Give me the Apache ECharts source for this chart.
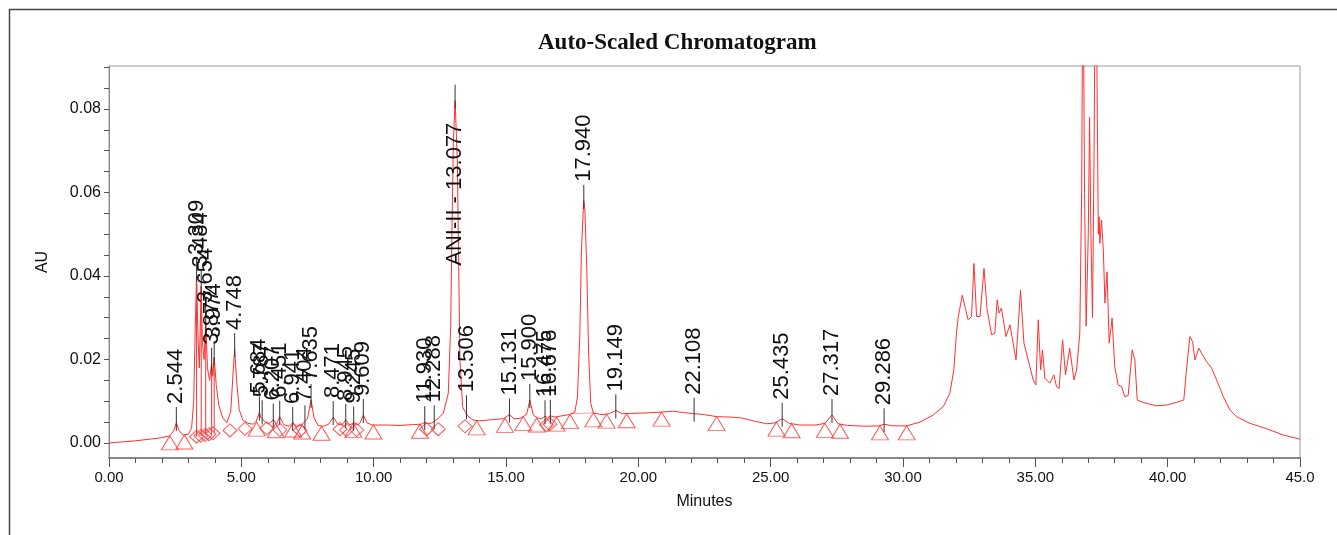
<!DOCTYPE html>
<html>
<head>
<meta charset="utf-8">
<script src="https://cdn.jsdelivr.net/npm/echarts@6/dist/echarts.min.js"></script>
<style>
  html, body { margin: 0; padding: 0; background: #fff; }
  #chart { width: 1337px; height: 535px; }
</style>
</head>
<body>
<div id="chart"></div>
<script>
// chromatogram trace, minutes / AU
const traceTime = [
  0, 0.98, 1.93, 2.30, 2.45, 2.544, 2.65, 2.80, 3.00, 3.12, 3.20, 3.26, 3.309, 3.36, 3.41, 3.45, 3.484, 3.53,
  3.59, 3.654, 3.72, 3.80, 3.877, 3.92, 3.974, 4.05, 4.15, 4.30, 4.45, 4.60, 4.68, 4.748, 4.82, 4.92, 5.05,
  5.25, 5.45, 5.56, 5.684, 5.73, 5.787, 5.90, 6.05, 6.207, 6.33, 6.451, 6.60, 6.80, 6.941, 7.10, 7.25, 7.404,
  7.50, 7.635, 7.75, 7.90, 8.10, 8.30, 8.471, 8.65, 8.80, 8.945, 9.10, 9.245, 9.40, 9.50, 9.609, 9.75, 9.95,
  10.5, 11.0, 11.5, 11.8, 11.93, 12.05, 12.20, 12.288, 12.45, 12.63, 12.82, 12.91, 12.96, 13.01, 13.077,
  13.16, 13.21, 13.26, 13.36, 13.45, 13.506, 13.60, 13.75, 14.0, 14.5, 14.9, 15.131, 15.30, 15.53, 15.78,
  15.90, 16.03, 16.20, 16.35, 16.475, 16.57, 16.676, 16.85, 17.10, 17.40, 17.60, 17.70, 17.79, 17.85, 17.92,
  17.94, 17.98, 18.05, 18.12, 18.20, 18.30, 18.60, 18.90, 19.149, 19.40, 19.80, 20.30, 20.90, 21.30, 21.70,
  22.108, 22.50, 22.96, 23.50, 23.90, 24.40, 24.85, 25.15, 25.435, 25.70, 26.10, 26.70, 27.05, 27.317, 27.55,
  27.90, 28.60, 29.10, 29.286, 29.60, 30.14, 30.64, 31.14, 31.52, 31.77, 31.92, 32.02, 32.09, 32.24, 32.34,
  32.46, 32.59, 32.68, 32.78, 32.91, 33.06, 33.18, 33.35, 33.47, 33.56, 33.63, 33.72, 33.89, 34.04, 34.27,
  34.44, 34.57, 34.73, 34.92, 35.02, 35.11, 35.20, 35.27, 35.36, 35.55, 35.70, 35.80, 35.90, 36.03, 36.14,
  36.30, 36.46, 36.56, 36.68, 36.75, 36.80, 36.86, 36.92, 37.00, 37.05, 37.10, 37.16, 37.22, 37.28, 37.34,
  37.38, 37.41, 37.44, 37.50, 37.57, 37.63, 37.71, 37.79, 37.90, 38.00, 38.13, 38.26, 38.38, 38.51, 38.66,
  38.76, 38.85, 39.07, 39.58, 39.96, 40.33, 40.61, 40.71, 40.84, 40.94, 41.03, 41.18, 41.28, 41.47, 41.66,
  41.85, 42.10, 42.35, 42.60, 43.11, 43.74, 44.37, 45.0
];
const traceAU = [
  0.0000, 0.0005, 0.0012, 0.0017, 0.0030, 0.0048, 0.0030, 0.0019, 0.0021, 0.0035, 0.0100, 0.0280, 0.0405, 0.0260, 0.0180, 0.0280, 0.0375, 0.0240,
  0.0200, 0.0290, 0.0180, 0.0150, 0.0190, 0.0160, 0.0205, 0.0140, 0.0090, 0.0060, 0.0048, 0.0075, 0.0160, 0.0225, 0.0150, 0.0080, 0.0055,
  0.0047, 0.0045, 0.0052, 0.0073, 0.0062, 0.0064, 0.0050, 0.0045, 0.0056, 0.0045, 0.0063, 0.0044, 0.0040, 0.0048, 0.0040, 0.0042, 0.0052,
  0.0058, 0.0103, 0.0060, 0.0042, 0.0040, 0.0045, 0.0062, 0.0045, 0.0043, 0.0055, 0.0043, 0.0049, 0.0043, 0.0050, 0.0067, 0.0048, 0.0043,
  0.0043, 0.0042, 0.0044, 0.0045, 0.0050, 0.0046, 0.0048, 0.0052, 0.0060, 0.0071, 0.0119, 0.0279, 0.0518, 0.0718, 0.0820,
  0.0678, 0.0438, 0.0199, 0.0087, 0.0075, 0.0076, 0.0062, 0.0055, 0.0053, 0.0056, 0.0058, 0.0068, 0.0058, 0.0059, 0.0068,
  0.0103, 0.0067, 0.0060, 0.0058, 0.0064, 0.0060, 0.0065, 0.0062, 0.0065, 0.0068, 0.0074, 0.0110, 0.0260, 0.0460, 0.0560,
  0.0580, 0.0560, 0.0420, 0.0220, 0.0095, 0.0072, 0.0068, 0.0070, 0.0078, 0.0070, 0.0071, 0.0072, 0.0074, 0.0076, 0.0073,
  0.0070, 0.0068, 0.0063, 0.0062, 0.0060, 0.0052, 0.0046, 0.0048, 0.0058, 0.0047, 0.0043, 0.0043, 0.0047, 0.0067, 0.0046,
  0.0042, 0.0040, 0.0041, 0.0045, 0.0041, 0.0041, 0.0050, 0.0067, 0.0087, 0.0119, 0.0175, 0.0263, 0.0303, 0.0354, 0.0327,
  0.0295, 0.0303, 0.0430, 0.0303, 0.0303, 0.0418, 0.0319, 0.0259, 0.0263, 0.0343, 0.0311, 0.0323, 0.0255, 0.0283, 0.0199,
  0.0366, 0.0239, 0.0199, 0.0151, 0.0139, 0.0295, 0.0175, 0.0223, 0.0155, 0.0143, 0.0163, 0.0135, 0.0131, 0.0247, 0.0163,
  0.0227, 0.0151, 0.0175, 0.0263, 0.0600, 0.1200, 0.0600, 0.0280, 0.0500, 0.0780, 0.0500, 0.0300, 0.0700, 0.1300, 0.0800,
  0.0500, 0.0542, 0.0478, 0.0534, 0.0460, 0.0335, 0.0410, 0.0239, 0.0299, 0.0183, 0.0139, 0.0135, 0.0111, 0.0114, 0.0223,
  0.0199, 0.0103, 0.0097, 0.0089, 0.0091, 0.0097, 0.0103, 0.0175, 0.0255, 0.0243, 0.0199, 0.0227, 0.0215, 0.0195, 0.0179,
  0.0151, 0.0111, 0.0079, 0.0063, 0.0047, 0.0034, 0.0019, 0.0009
];

// integrated peaks: retention time, apex height, label
const peakTimes = [2.544, 3.309, 3.484, 3.654, 3.877, 3.974, 4.748, 5.684, 5.787, 6.207, 6.451, 6.941, 7.404, 7.635,
  8.471, 8.945, 9.245, 9.609, 11.930, 12.288, 13.077, 13.506, 15.131, 15.900, 16.475, 16.676, 17.940, 19.149,
  22.108, 25.435, 27.317, 29.286];
const peakHeights = [0.0048, 0.0405, 0.0375, 0.0290, 0.0190, 0.0205, 0.0225, 0.0073, 0.0064, 0.0056, 0.0063, 0.0048, 0.0052, 0.0103,
  0.0062, 0.0055, 0.0049, 0.0067, 0.0050, 0.0052, 0.0820, 0.0076, 0.0068, 0.0103, 0.0064, 0.0065, 0.0580, 0.0078,
  0.0070, 0.0058, 0.0067, 0.0045];
const peakNames = ['2.544', '3.309', '3.484', '3.654', '3.877', '3.974', '4.748', '5.684', '5.787', '6.207', '6.451', '6.941', '7.404', '7.635',
  '8.471', '8.945', '9.245', '9.609', '11.930', '12.288', 'ANI-II - 13.077', '13.506', '15.131', '15.900', '16.475', '16.676', '17.940', '19.149',
  '22.108', '25.435', '27.317', '29.286'];

// drop lines in the early cluster
const dropTimes = [3.309, 3.484, 3.654, 3.877, 3.974];
const dropTops = [0.0405, 0.0375, 0.0290, 0.0190, 0.0205];
const dropBottoms = [0.0015, 0.0017, 0.0019, 0.0021, 0.0023];

// peak start / end markers
const triangleTimes = [2.30, 2.85, 5.58, 6.30, 6.96, 7.30, 8.03, 9.23, 9.99, 11.75, 13.89, 14.96, 15.65, 16.16, 16.91, 17.42,
  18.30, 18.80, 19.56, 20.88, 22.96, 25.22, 25.79, 27.05, 27.62, 29.13, 30.14];
const triangleAU = [0.0017, 0.0019, 0.0050, 0.0046, 0.0048, 0.0043, 0.0040, 0.0047, 0.0043, 0.0045, 0.0053, 0.0059, 0.0063, 0.0060, 0.0062, 0.0068,
  0.0072, 0.0069, 0.0070, 0.0074, 0.0063, 0.0050, 0.0046, 0.0047, 0.0045, 0.0041, 0.0041];
const diamondTimes = [3.31, 3.47, 3.63, 3.78, 3.93, 4.57, 5.14, 5.96, 6.46, 7.22, 8.73, 8.98, 9.36, 12.00, 12.44, 13.45, 16.53, 16.66];
const diamondAU = [0.0015, 0.0017, 0.0019, 0.0021, 0.0023, 0.0030, 0.0034, 0.0035, 0.0031, 0.0030, 0.0033, 0.0031, 0.0031, 0.0033, 0.0033, 0.0040, 0.0043, 0.0045];

// integration baseline under the 17.940 peak
const baselineTimes = [17.42, 18.30];
const baselineAU = [0.0070, 0.0072];

const yLabelValues = [0, 0.02, 0.04, 0.06, 0.08];
const yTickValues = [0, 0.005, 0.01, 0.015, 0.02, 0.025, 0.03, 0.035, 0.04, 0.045, 0.05, 0.055, 0.06, 0.065, 0.07, 0.075, 0.08, 0.085, 0.09];

const RED = '#ff3030';
const LABEL_FONT = '22px "Liberation Sans", Arial, sans-serif';

const measureCtx = document.createElement('canvas').getContext('2d');
function textLen(t) {
  measureCtx.font = LABEL_FONT;
  return measureCtx.measureText(t).width;
}

const chart = echarts.init(document.getElementById('chart'), null, { renderer: 'canvas' });

const option = {
  animation: false,
  backgroundColor: '#fff',
  title: {
    text: 'Auto-Scaled Chromatogram',
    left: 533,
    top: 27,
    textStyle: { fontFamily: '"Liberation Serif", serif', fontWeight: 'bold', fontSize: 23, color: '#111' }
  },
  graphic: [
    { type: 'rect', shape: { x: 9.5, y: 9.5, width: 1400, height: 600 }, style: { fill: 'none', stroke: '#444', lineWidth: 1.5 }, silent: true }
  ],
  grid: {
    left: 109, right: 37, top: 66, bottom: 77,
    show: true, borderColor: '#999', borderWidth: 1
  },
  xAxis: {
    type: 'value',
    min: 0, max: 45, interval: 5,
    name: 'Minutes', nameLocation: 'middle', nameGap: 36,
    nameTextStyle: { fontFamily: '"Liberation Sans", Arial', fontSize: 16, color: '#111' },
    axisLine: { show: true, onZero: false, lineStyle: { color: '#888', width: 2 } },
    axisTick: { show: true, length: 9, lineStyle: { color: '#555' } },
    minorTick: { show: true, splitNumber: 5, length: 5, lineStyle: { color: '#555' } },
    splitLine: { show: false },
    axisLabel: {
      fontFamily: '"Liberation Sans", Arial', fontSize: 15, color: '#111', margin: 12,
      formatter: v => (v === 45 ? '45.0' : v.toFixed(2))
    }
  },
  yAxis: {
    type: 'value',
    min: -0.0036, max: 0.0903,
    name: 'AU', nameLocation: 'middle', nameGap: 58, nameRotate: 90,
    nameTextStyle: { fontFamily: '"Liberation Sans", Arial', fontSize: 16, color: '#111' },
    axisLine: { show: true, lineStyle: { color: '#888', width: 1 } },
    axisTick: { show: true, length: 5, customValues: yTickValues, lineStyle: { color: '#555' } },
    splitLine: { show: false },
    axisLabel: {
      fontFamily: '"Liberation Sans", Arial', fontSize: 16, color: '#111', margin: 8,
      customValues: yLabelValues,
      formatter: v => v.toFixed(2)
    }
  },
  series: [
    {
      name: 'trace',
      type: 'line',
      data: traceTime.map((t, i) => [t, traceAU[i]]),
      showSymbol: false,
      clip: true,
      lineStyle: { color: RED, width: 1 },
      z: 3
    },
    {
      name: 'baseline',
      type: 'line',
      data: baselineTimes.map((t, i) => [t, baselineAU[i]]),
      showSymbol: false,
      lineStyle: { color: 'rgba(255,48,48,0.45)', width: 1 },
      z: 2
    },
    {
      name: 'drops',
      type: 'custom',
      data: dropTimes.map((t, i) => [t, dropTops[i], dropBottoms[i]]),
      renderItem: (params, api) => {
        const a = api.coord([api.value(0), api.value(1)]);
        const b = api.coord([api.value(0), api.value(2)]);
        return { type: 'line', shape: { x1: a[0], y1: a[1], x2: b[0], y2: b[1] }, style: { stroke: RED, lineWidth: 1 } };
      },
      z: 3
    },
    {
      name: 'starts',
      type: 'scatter',
      data: triangleTimes.map((t, i) => [t, triangleAU[i]]),
      symbol: 'triangle',
      symbolSize: [17, 14],
      symbolOffset: [0, 7],
      itemStyle: { color: 'rgba(0,0,0,0)', borderColor: RED, borderWidth: 1 },
      z: 4
    },
    {
      name: 'ends',
      type: 'scatter',
      data: diamondTimes.map((t, i) => [t, diamondAU[i]]),
      symbol: 'diamond',
      symbolSize: [14, 13],
      itemStyle: { color: 'rgba(0,0,0,0)', borderColor: RED, borderWidth: 1 },
      z: 4
    },
    {
      name: 'labels',
      type: 'custom',
      data: peakTimes.map((t, i) => [t, peakHeights[i]]),
      renderItem: (params, api) => {
        const p = api.coord([api.value(0), api.value(1)]);
        const name = peakNames[params.dataIndex];
        const len = textLen(name);
        const top = params.coordSys.y;
        let base = p[1] - 19;
        if (base - len < top) base = p[1] + 22 + len;
        return {
          type: 'group',
          children: [
            { type: 'line', shape: { x1: p[0], y1: p[1] + 8, x2: p[0], y2: p[1] - 16 }, style: { stroke: '#333', lineWidth: 1 } },
            {
              type: 'text', x: p[0], y: base, rotation: Math.PI / 2,
              style: { text: name, font: LABEL_FONT, fill: '#111', align: 'left', verticalAlign: 'middle' }
            }
          ]
        };
      },
      z: 5
    }
  ]
};

chart.setOption(option);
</script>
</body>
</html>
